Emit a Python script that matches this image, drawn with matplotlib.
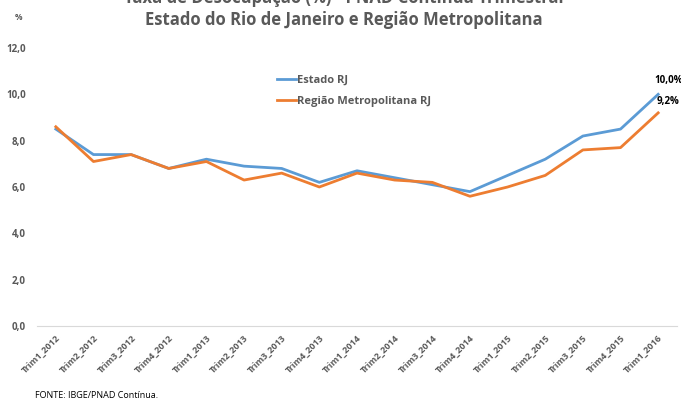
import matplotlib
matplotlib.use("Agg")
from matplotlib import pyplot as plt

# trimestres
periodos = ["Trim1_2012", "Trim2_2012", "Trim3_2012", "Trim4_2012",
            "Trim1_2013", "Trim2_2013", "Trim3_2013", "Trim4_2013",
            "Trim1_2014", "Trim2_2014", "Trim3_2014", "Trim4_2014",
            "Trim1_2015", "Trim2_2015", "Trim3_2015", "Trim4_2015",
            "Trim1_2016"]
estado_rj = [8.5, 7.4, 7.4, 6.8, 7.2, 6.9, 6.8, 6.2, 6.7, 6.4, 6.1, 5.8,
             6.5, 7.2, 8.2, 8.5, 10.0]
metro_rj = [8.6, 7.1, 7.4, 6.8, 7.1, 6.3, 6.6, 6.0, 6.6, 6.3, 6.2, 5.6,
            6.0, 6.5, 7.6, 7.7, 9.2]
yticks = [0, 2, 4, 6, 8, 10, 12]

plt.rcParams['font.family'] = ['Open Sans', 'DejaVu Sans']
cinza = '#595959'

fig = plt.figure(figsize=(6.81, 4.01), dpi=100)
ax = fig.add_axes([37/681, 1 - 326/401, 640/681, 278/401])

x = list(range(len(periodos)))
ax.plot(x, estado_rj, color='#5b9bd5', lw=2, label='Estado RJ')
ax.plot(x, metro_rj, color='#ed7d31', lw=2, label='Região Metropolitana RJ')

ax.set_xlim(-0.5, len(periodos) - 0.5)
ax.set_ylim(0, 12)
ax.set_yticks(yticks)
ax.set_yticklabels([f"{v:.1f}".replace('.', ',') for v in yticks],
                   fontsize=7, color=cinza, fontweight='bold')
ax.set_xticks(x)
ax.set_xticklabels(periodos, rotation=45, ha='right', rotation_mode='anchor',
                   fontsize=6.5, color=cinza, fontweight='bold')
ax.tick_params(axis='both', length=0, pad=5)
ax.tick_params(axis='y', pad=8)
for s in ['top', 'right', 'left']:
    ax.spines[s].set_visible(False)
ax.spines['bottom'].set_color('#d9d9d9')

# rótulos do último ponto
ax.annotate(f"{estado_rj[-1]:.1f}%".replace('.', ','), (x[-1], estado_rj[-1]),
            xytext=(-3, 6), textcoords='offset points', fontsize=7,
            fontweight='bold', color='black', va='bottom')
ax.annotate(f"{metro_rj[-1]:.1f}%".replace('.', ','), (x[-1], metro_rj[-1]),
            xytext=(-1, 4), textcoords='offset points', fontsize=7,
            fontweight='bold', color='black', va='bottom')

leg = ax.legend(loc='upper left', bbox_to_anchor=(0.36, 0.94), frameon=False,
                fontsize=8, handlelength=1.7, handletextpad=0.1,
                labelspacing=0.95)
for t in leg.get_texts():
    t.set_color(cinza)
    t.set_fontweight('bold')

fig.text(0.505, 1.005, "Taxa de Desocupação (%) - PNAD Contínua Trimestral",
         ha='center', va='center', fontsize=12, color=cinza, fontweight='bold')
fig.text(0.505, 1 - 20/401, "Estado do Rio de Janeiro e Região Metropolitana",
         ha='center', va='center', fontsize=12, color=cinza, fontweight='bold')
fig.text(15/681, 1 - 18/401, "%", fontsize=6, color=cinza, fontweight='bold',
         va='center')
fig.text(35/681, 1 - 395/401, "FONTE: IBGE/PNAD Contínua.", fontsize=6.5,
         color='black', va='center')

fig.savefig('out.png', dpi=100)
